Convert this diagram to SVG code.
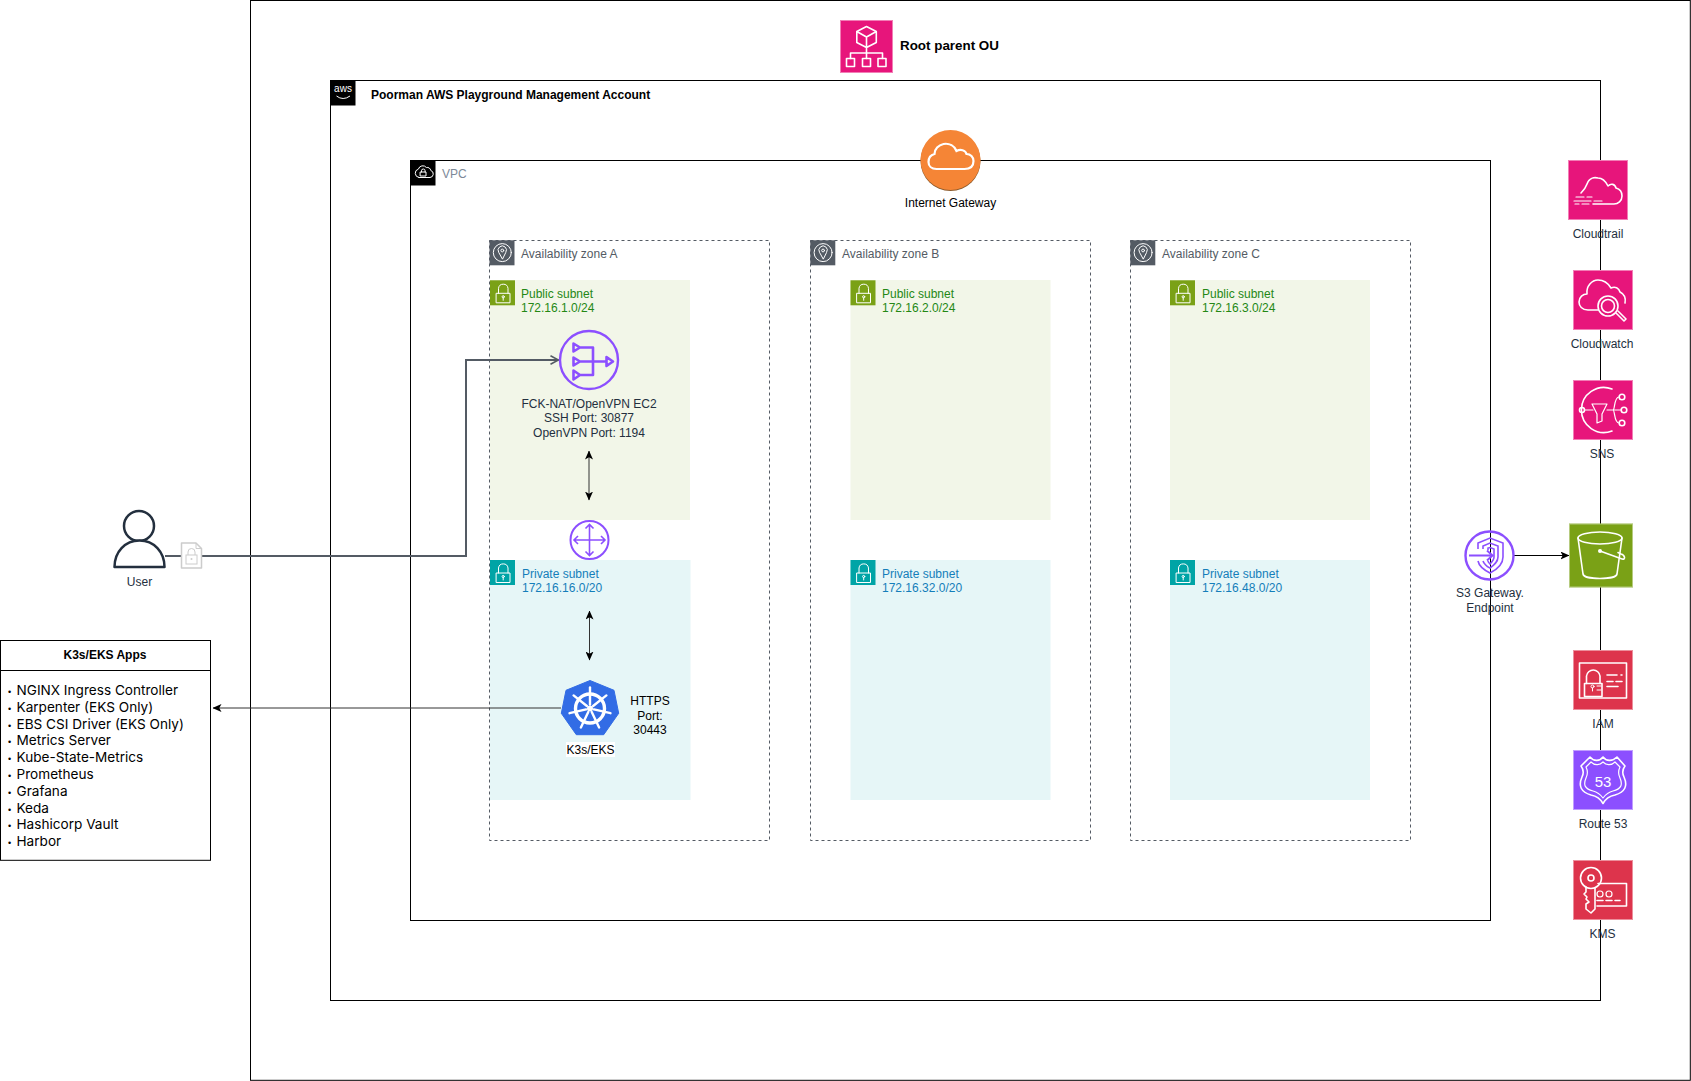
<svg xmlns="http://www.w3.org/2000/svg" width="1691" height="1081" viewBox="0 0 1691 1081">
<style>
text{font-family:"Liberation Sans",Arial,sans-serif;font-size:12px;fill:#232F3E}
.c{text-anchor:middle}
.b{font-weight:bold;fill:#000}
.box{fill:none;stroke:#000;stroke-width:1}
.az{fill:none;stroke:#545B64;stroke-width:1;stroke-dasharray:3 3}
.azt{fill:#545B64}
.pub{fill:#F2F6E8}
.pri{fill:#E6F6F7}
.pubt{fill:#248814}
.prit{fill:#147EBA}
.li{font-family:Inter,"Liberation Sans",sans-serif;font-size:13.600px;fill:#000}
.bl{font-family:"Liberation Sans",sans-serif;font-size:9px;fill:#000}
.w{fill:none;stroke:#fff;stroke-width:1.600;stroke-linejoin:round;stroke-linecap:round}
.wt{fill:none;stroke:#fff;stroke-width:1;stroke-linejoin:round;stroke-linecap:round}
.p{fill:none;stroke:#8C4FFF;stroke-width:2.600;stroke-linejoin:round}
.edge{fill:none;stroke:#333;stroke-width:1}
.gray{fill:none;stroke:#545B64;stroke-width:2}
.frame{fill:none;stroke:#fff;stroke-opacity:.45;stroke-width:1}
</style>
<defs>
<marker id="ah" viewBox="0 0 9 8" markerWidth="9" markerHeight="8" refX="8.5" refY="4" orient="auto-start-reverse" markerUnits="userSpaceOnUse"><path d="M0,0 L9,4 L0,8 L2.2,4 Z" fill="#000"/></marker>
<marker id="open" viewBox="0 0 10 10" markerWidth="10" markerHeight="10" refX="9" refY="5" orient="auto" markerUnits="userSpaceOnUse"><path d="M1,0.8 L9,5 L1,9.2" fill="none" stroke="#545B64" stroke-width="1.6"/></marker>
<g id="lock-shape"><rect x="6.500" y="13" width="13.500" height="9.500" class="wt"/><path d="M8.500,13 V8 a4.800,4.800 0 0 1 9.500,0 V13" class="wt"/><circle cx="13.200" cy="16.500" r="1.100" class="wt"/><path d="M13.200,17.600 V20" class="wt"/></g>
<g id="sub-pub-icon"><rect width="25" height="25" fill="#7AA116"/><use href="#lock-shape"/></g>
<g id="sub-pri-icon"><rect width="25" height="25" fill="#00A4A6"/><use href="#lock-shape"/></g>
<g id="az-icon"><rect width="25" height="25" fill="#545B64"/><circle cx="12.800" cy="12.300" r="9" class="wt"/><path d="M12.800,18.500 L9.200,12 a4.200,4.200 0 1 1 7.200,0 Z" class="wt"/><circle cx="12.800" cy="10.200" r="1.400" class="wt"/></g>
</defs>

<g id="root-ou-container"><rect x="250.500" y="0.500" width="1439.800" height="1079.800" class="box"/></g>
<g id="account-container">
<rect x="330.500" y="80.500" width="1270" height="920" class="box"/>
<rect x="330.500" y="80.500" width="25" height="25" fill="#000"/>
<text x="343" y="92" class="c" style="fill:#fff;font-size:10px">aws</text>
<path d="M336.500,96 Q343,101 350,96" fill="none" stroke="#fff" stroke-width="1"/>
<text x="371" y="99" class="b">Poorman AWS Playground Management Account</text>
</g>
<g id="vpc-container">
<rect x="410.500" y="160.500" width="1080" height="760" class="box"/>
<rect x="410.500" y="160.500" width="25" height="25" fill="#000"/>
<path d="M418,178 h11 a3.600,3.600 0 0 0 .8,-7 a3.600,3.600 0 0 0 -4.400,-3 a4.600,4.600 0 0 0 -8,1.600 a4.300,4.300 0 0 0 .6,8.400 z" class="wt" transform="translate(1,-.5)"/>
<rect x="420.500" y="172" width="5.500" height="4" class="wt"/>
<path d="M421.500,172 v-1.200 a1.800,1.800 0 0 1 3.600,0 V172" class="wt"/>
<text x="442" y="178" style="fill:#7D8998">VPC</text>
</g>

<g id="subnet-a-public"><rect x="490" y="280" width="200" height="240" class="pub"/><use href="#sub-pub-icon" x="490" y="280.300"/><text x="521" y="298" class="pubt">Public subnet</text><text x="521" y="312" class="pubt">172.16.1.0/24</text></g>
<g id="subnet-a-private"><rect x="490" y="560" width="200.500" height="240" class="pri"/><use href="#sub-pri-icon" x="490" y="560"/><text x="522" y="578" class="prit">Private subnet</text><text x="522" y="592" class="prit">172.16.16.0/20</text></g>
<g id="subnet-b-public"><rect x="850.500" y="280" width="200" height="240" class="pub"/><use href="#sub-pub-icon" x="850.500" y="280.300"/><text x="882" y="298" class="pubt">Public subnet</text><text x="882" y="312" class="pubt">172.16.2.0/24</text></g>
<g id="subnet-b-private"><rect x="850.500" y="560" width="200" height="240" class="pri"/><use href="#sub-pri-icon" x="850.500" y="560"/><text x="882" y="578" class="prit">Private subnet</text><text x="882" y="592" class="prit">172.16.32.0/20</text></g>
<g id="subnet-c-public"><rect x="1170" y="280" width="200" height="240" class="pub"/><use href="#sub-pub-icon" x="1170" y="280.300"/><text x="1202" y="298" class="pubt">Public subnet</text><text x="1202" y="312" class="pubt">172.16.3.0/24</text></g>
<g id="subnet-c-private"><rect x="1170" y="560" width="200" height="240" class="pri"/><use href="#sub-pri-icon" x="1170" y="560"/><text x="1202" y="578" class="prit">Private subnet</text><text x="1202" y="592" class="prit">172.16.48.0/20</text></g>

<g id="az-a"><rect x="489.500" y="240.500" width="280" height="600" class="az"/><use href="#az-icon" x="489.500" y="240.300"/><text x="521" y="258" class="azt">Availability zone A</text></g>
<g id="az-b"><rect x="810.500" y="240.500" width="280" height="600" class="az"/><use href="#az-icon" x="810.300" y="240.300"/><text x="842" y="258" class="azt">Availability zone B</text></g>
<g id="az-c"><rect x="1130.500" y="240.500" width="280" height="600" class="az"/><use href="#az-icon" x="1130.300" y="240.300"/><text x="1162" y="258" class="azt">Availability zone C</text></g>

<g id="connectors">
<path d="M165,556 H466 V360 H558.500" class="gray" marker-end="url(#open)"/>
<path d="M561,708 L213,708" class="edge" marker-end="url(#ah)"/>
<path d="M589,451 V500" class="edge" marker-start="url(#ah)" marker-end="url(#ah)"/>
<path d="M589.500,611 V660" class="edge" marker-start="url(#ah)" marker-end="url(#ah)"/>
<path d="M1514,555.500 H1569" stroke="#000" fill="none" marker-end="url(#ah)"/>
</g>

<g id="root-ou">
<rect x="840" y="20" width="53" height="53" fill="#E7157B"/><rect x="840.500" y="20.500" width="52" height="52" class="frame"/>
<path d="M866.500,26.500 L876.300,31.500 V42.500 L866.500,47.500 L856.800,42.500 V31.500 Z M856.800,31.500 L866.500,37 L876.300,31.500 M866.500,37 V47.500 M866.500,47.500 V53 M850.500,58.500 V53 H882.500 V58.500 M866.500,53 V58.500" class="w"/>
<rect x="846.500" y="58.500" width="8" height="8" class="w"/><rect x="862.500" y="58.500" width="8" height="8" class="w"/><rect x="878" y="58.500" width="8" height="8" class="w"/>
<text x="900" y="50" style="font-size:13.400px;font-weight:bold;fill:#000">Root parent OU</text>
</g>

<g id="internet-gateway">
<circle cx="950.500" cy="161" r="30" fill="#8C5A2B"/>
<circle cx="950.500" cy="160" r="30" fill="#F58536"/>
<path d="M936.500,169 H964.500 C971.500,169 973.500,165 973.500,161 C973.500,157 970.500,154 966.500,154 C965.500,150 960.500,149 956.500,151 C954.500,146 949.500,143 943.500,144 C938.500,145 934.500,149 934.500,154 C930.500,155 928.500,158 928.500,162 C928.500,166 931.500,169 936.500,169 Z" fill="none" stroke="#fff" stroke-width="2.200"/>
<text x="950.500" y="207" class="c" style="fill:#000">Internet Gateway</text>
</g>

<g id="user">
<circle cx="139" cy="526" r="15" fill="#fff" stroke="#232F3E" stroke-width="2.500"/>
<path d="M114.500,567 C114.500,552 125,540.500 139.500,540.500 C154,540.500 164.500,552 164.500,567 Z" fill="#fff" stroke="#232F3E" stroke-width="2.500" stroke-linejoin="round"/>
<text x="139.500" y="586" class="c">User</text>
</g>
<g id="tls-doc">
<path d="M181.500,543 H196 L201.500,548.500 V568 H181.500 Z" fill="#fff" stroke="#ccc" stroke-width="1.500" stroke-linejoin="round"/>
<path d="M196,543 V548.500 H201.500" fill="none" stroke="#ccc"/>
<rect x="186" y="555" width="11" height="9" fill="none" stroke="#ccc"/>
<path d="M188,555 V552 a3.500,3.500 0 0 1 7,0 V555" fill="none" stroke="#ccc"/>
<circle cx="191.500" cy="559" r="1" fill="#ccc"/>
</g>

<g id="nat-instance">
<circle cx="589" cy="360" r="29" fill="none" stroke="#8C4FFF" stroke-width="2.400"/>
<path d="M573.500,343.500 L580,347.500 L573.500,351.500 Z M573.500,357.500 L580,361.500 L573.500,365.500 Z M573.500,370.500 L580,375 L573.500,379.500 Z M580,347.500 H593 V375 H580 M580,361.500 H606.500 M606.500,357 L613,361.500 L606.500,366 Z" class="p"/>
<text x="589" y="408" class="c">FCK-NAT/OpenVPN EC2</text>
<text x="589" y="422" class="c">SSH Port: 30877</text>
<text x="589" y="437" class="c">OpenVPN Port: 1194</text>
</g>

<g id="router">
<circle cx="589.500" cy="540" r="19" fill="none" stroke="#8C4FFF" stroke-width="2"/>
<path d="M574,540 H605 M589.500,524.500 V555.500 M578,536 L574,540 L578,544 M601,536 L605,540 L601,544 M585.500,528.500 L589.500,524.500 L593.500,528.500 M585.500,551.500 L589.500,555.500 L593.500,551.500" fill="none" stroke="#8C4FFF" stroke-width="1.600"/>
</g>

<g id="k3s-eks">
<path d="M590,680.500 L614,690.300 L618.700,713.300 L603.700,734.700 L576.300,734.700 L561.300,713.300 L566,690.300 Z" fill="#326CE5" stroke="#326CE5" stroke-width="1" stroke-linejoin="round"/>
<g transform="translate(590,708.500)" stroke="#fff" stroke-width="2.400" fill="none" stroke-linecap="round">
<circle r="14.500" stroke-width="3.400"/><circle r="3" fill="#fff" stroke="none"/>
<path d="M0,-4 V-21"/>
<path d="M0,-4 V-21" transform="rotate(51.400)"/><path d="M0,-4 V-21" transform="rotate(102.900)"/><path d="M0,-4 V-21" transform="rotate(154.300)"/><path d="M0,-4 V-21" transform="rotate(205.700)"/><path d="M0,-4 V-21" transform="rotate(257.100)"/><path d="M0,-4 V-21" transform="rotate(308.600)"/>
</g>
<rect x="566" y="742" width="49" height="15" fill="#fff"/>
<text x="590.500" y="754" class="c" style="fill:#000">K3s/EKS</text>
<text x="650" y="705" class="c" style="fill:#000">HTTPS</text><text x="650" y="720" class="c" style="fill:#000">Port:</text><text x="650" y="734" class="c" style="fill:#000">30443</text>
</g>

<g id="k3s-apps">
<rect x="0.500" y="640.500" width="210" height="219.800" fill="#fff" stroke="#000"/>
<path d="M0.500,670.500 H210.500" stroke="#000"/>
<text x="105" y="658.500" class="c b">K3s/EKS Apps</text>
<text x="8" y="695" class="bl">•</text><text x="16.500" y="695" class="li">NGINX Ingress Controller</text>
<text x="8" y="711.800" class="bl">•</text><text x="16.500" y="711.800" class="li">Karpenter (EKS Only)</text>
<text x="8" y="728.600" class="bl">•</text><text x="16.500" y="728.600" class="li">EBS CSI Driver (EKS Only)</text>
<text x="8" y="745.400" class="bl">•</text><text x="16.500" y="745.400" class="li">Metrics Server</text>
<text x="8" y="762.200" class="bl">•</text><text x="16.500" y="762.200" class="li">Kube-State-Metrics</text>
<text x="8" y="779" class="bl">•</text><text x="16.500" y="779" class="li">Prometheus</text>
<text x="8" y="795.800" class="bl">•</text><text x="16.500" y="795.800" class="li">Grafana</text>
<text x="8" y="812.600" class="bl">•</text><text x="16.500" y="812.600" class="li">Keda</text>
<text x="8" y="829.400" class="bl">•</text><text x="16.500" y="829.400" class="li">Hashicorp Vault</text>
<text x="8" y="846.200" class="bl">•</text><text x="16.500" y="846.200" class="li">Harbor</text>
</g>

<g id="cloudtrail">
<rect x="1568" y="160" width="60" height="60" fill="#E7157B"/><rect x="1568.500" y="160.500" width="59" height="59" class="frame"/>
<path d="M1581,193 C1584,190 1586,187 1587,184 C1589,178 1594,177 1598,178 C1603,178 1606,182 1608,186 C1611,183 1615,184 1616,188 C1620,189 1622,192 1622,196 C1622,201 1618,204 1614,204 H1593" class="w"/>
<path d="M1576,197 H1584 M1587,197 H1592 M1574,201 H1591 M1594,201 H1602 M1575,204 H1579 M1582,204 H1589" class="w" style="stroke-width:1.200"/>
<text x="1598" y="238" class="c">Cloudtrail</text>
</g>
<g id="cloudwatch">
<rect x="1573" y="270" width="60" height="60" fill="#E7157B"/><rect x="1573.500" y="270.500" width="59" height="59" class="frame"/>
<path d="M1598,310 H1588 C1582,310 1579,306 1579,302 C1579,297 1583,294 1587,294 C1586,286 1592,280 1598,280 C1604,280 1608,283 1611,288 C1615,286 1619,288 1620,292 C1624,294 1626,298 1625,303" class="w"/>
<circle cx="1608" cy="306" r="10" class="w"/><circle cx="1608" cy="306" r="6.500" class="w"/>
<path d="M1616,313 L1624,321 L1626,319 L1618,311" class="w"/>
<text x="1602" y="348" class="c">Cloudwatch</text>
</g>
<g id="sns">
<rect x="1573" y="380" width="60" height="60" fill="#E7157B"/><rect x="1573.500" y="380.500" width="59" height="59" class="frame"/>
<path d="M1612,389 A22.500,22.500 0 1 0 1612,431" class="w"/>
<circle cx="1582" cy="410" r="2.500" class="w"/><circle cx="1622" cy="397" r="2.800" class="w"/><circle cx="1624" cy="410" r="2.800" class="w"/><circle cx="1622" cy="423" r="2.800" class="w"/>
<path d="M1592,404 H1607 L1602,414 V421 L1597,423 V414 Z M1585,410 H1593 M1607,410 H1621 M1613,410 C1615,410 1614,397 1619,397 M1613,410 C1615,410 1614,423 1619,423" class="w" style="stroke-width:1.200"/>
<text x="1602" y="458" class="c">SNS</text>
</g>
<g id="s3-endpoint">
<circle cx="1489.500" cy="555.500" r="24" fill="none" stroke="#8C4FFF" stroke-width="2.400"/>
<path d="M1478,549 V543 L1490,538 L1503,543 V557 C1503,565 1496,570 1490,573 C1484,570 1479,566 1478,561 M1483,549 V546 L1490,543 L1498,546 V557 C1498,562 1494,565 1490,568 C1486,566 1484,564 1483,561 M1488,550 V548 L1490,547.500 L1494,549 V557 C1494,560 1492,562 1490,564 C1489,563 1488,562 1488,561" fill="none" stroke="#8C4FFF" stroke-width="1.600"/>
<path d="M1469,555.500 H1492 M1487,550.500 L1492.500,555.500 L1487,560.500" fill="none" stroke="#8C4FFF" stroke-width="2"/>
<text x="1490" y="597" class="c">S3 Gateway.</text>
<text x="1490" y="612" class="c">Endpoint</text>
</g>
<g id="s3">
<rect x="1569" y="523.500" width="64" height="64" fill="#7AA116"/><rect x="1569.500" y="524" width="63" height="63" class="frame"/>
<ellipse cx="1600" cy="538" rx="22" ry="6" class="w"/>
<path d="M1578,538 L1583,574 C1584,580 1616,580 1617,574 L1622,538" class="w"/>
<circle cx="1600" cy="551" r="2" fill="#fff"/>
<path d="M1600,551 L1622,559 C1626,560 1625,555 1621,554 L1618,552.500" class="w"/>
</g>
<g id="iam">
<rect x="1573" y="650" width="60" height="60" fill="#DD344C"/><rect x="1573.500" y="650.500" width="59" height="59" class="frame"/>
<rect x="1579.500" y="663" width="47" height="35" class="w"/>
<rect x="1584.500" y="683.500" width="17.500" height="13" class="w"/>
<path d="M1586.500,683.500 V676 a6.800,6.800 0 0 1 13.500,0 V683.500" class="w"/>
<circle cx="1592.500" cy="686.500" r="1.500" class="wt"/><path d="M1592.500,688 V691 M1597,686 H1601 M1597,690 H1601" class="wt"/>
<path d="M1607,675 H1617 M1621,675 H1622 M1607,681.500 H1613 M1616,681.500 H1622 M1607,686.500 H1618" class="w"/>
<text x="1603" y="728" class="c">IAM</text>
</g>
<g id="route53">
<rect x="1573" y="750" width="60" height="60" fill="#8C4FFF"/><rect x="1573.500" y="750.500" width="59" height="59" class="frame"/>
<path d="M1590,757 C1594,762 1600,761 1603,757 C1606,761 1612,762 1617,757 L1625,766 C1622,770 1622,773 1624,777 C1628,786 1625,792 1615,795 C1610,796 1606,798 1603,803.500 C1600,798 1596,796 1591,795 C1581,792 1578,786 1582,777 C1584,773 1584,770 1581,766 Z" class="w"/>
<path d="M1591,762 C1595,766 1600,765 1603,762 C1606,765 1611,766 1615,762 L1620,767 C1618,771 1618,774 1620,778 C1623,785 1621,789 1613,791 C1609,792 1606,794 1603,798 C1600,794 1597,792 1593,791 C1585,789 1583,785 1586,778 C1588,774 1588,771 1586,767 Z" class="w" style="stroke-width:1.200"/>
<text x="1603" y="787" class="c" style="fill:#fff;font-size:15px">53</text>
<text x="1603" y="828" class="c">Route 53</text>
</g>
<g id="kms">
<rect x="1573" y="860" width="60" height="60" fill="#DD344C"/><rect x="1573.500" y="860.500" width="59" height="59" class="frame"/>
<circle cx="1591" cy="878" r="10.500" class="w"/><circle cx="1591" cy="878" r="3" class="w"/>
<path d="M1586,887 V892 L1584,894 L1587,897 L1586,899 L1589,902 L1586,904 V909 L1591,913 L1595,909 V887.500" class="w"/>
<path d="M1598,883.500 H1626.500 V906 H1597" class="w"/>
<circle cx="1600" cy="894" r="3" class="w" style="stroke-width:1.200"/><circle cx="1609" cy="894" r="3" class="w" style="stroke-width:1.200"/>
<path d="M1597,900.500 H1603 M1606,900.500 H1612 M1615,900.500 H1620" class="w"/>
<text x="1602.500" y="938" class="c">KMS</text>
</g>
</svg>
